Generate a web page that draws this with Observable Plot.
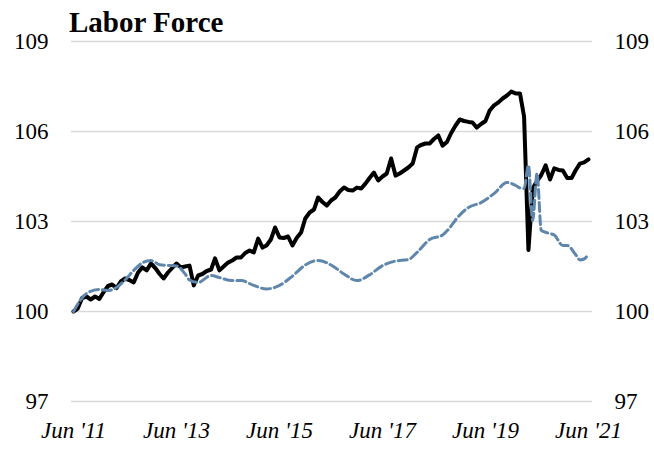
<!DOCTYPE html>
<html><head><meta charset="utf-8">
<script src="https://cdn.jsdelivr.net/npm/d3@7"></script>
<script src="https://cdn.jsdelivr.net/npm/@observablehq/plot@0.6"></script>
<style>
body{margin:0;background:#fff;}
#wrap{position:relative;width:654px;height:449px;}
#title{position:absolute;left:69px;top:8px;margin:0;font:bold 29px "Liberation Serif",serif;line-height:29px;color:#000;}
svg text{font-family:"Liberation Serif",serif;}
g[aria-label="x-axis tick label"] text{font-style:italic;}
</style></head><body>
<div id="wrap"><div id="title">Labor Force</div></div>
<script>
const startMonth = "2011-06-01";
// Black line: monthly index, Jun 2011 = 100
const laborForce = [
100.0,100.1,100.45,100.5,100.4,100.5,100.42,100.65,100.85,100.9,
100.78,101.0,101.1,101.05,100.97,101.3,101.47,101.37,101.6,101.45,
101.25,101.1,101.3,101.45,101.6,101.47,101.5,101.53,100.87,101.2,
101.25,101.35,101.4,101.77,101.37,101.5,101.63,101.7,101.8,101.8,
101.95,102.03,101.97,102.43,102.13,102.2,102.4,102.8,102.47,102.45,
102.5,102.2,102.45,102.63,103.1,103.3,103.4,103.8,103.65,103.53,
103.7,103.8,104.0,104.13,104.05,104.03,104.13,104.1,104.27,104.45,
104.63,104.37,104.5,104.6,105.1,104.53,104.6,104.7,104.8,104.93,
105.47,105.55,105.6,105.6,105.75,105.87,105.53,105.65,105.95,106.2,
106.4,106.35,106.32,106.3,106.13,106.25,106.35,106.7,106.87,106.97,
107.1,107.2,107.33,107.27,107.27,106.5,102.05,104.1,104.35,104.55,
104.87,104.4,104.77,104.72,104.7,104.45,104.45,104.7,104.93,104.97,
105.07
];
// Dashed line: months after Jun 2011 and values
const trendMonths = [0,3,6,8,10,12,14,16,18,20,23,24,26,27,29,32,34,37,39,42,45,48,51,54,57,60,63,66,69,72,75,78,80,83,86,88,89,92,95,98,101,103,104,105,106,107,108,109,111,112,114,115,117,118,119,120];
const trendValues = [100.0,100.6,100.73,100.7,100.8,101.05,101.37,101.62,101.7,101.56,101.53,101.52,101.25,101.05,100.97,101.2,101.13,101.03,101.03,100.87,100.75,100.87,101.18,101.55,101.7,101.55,101.25,101.03,101.22,101.53,101.68,101.73,101.97,102.4,102.55,102.85,103.05,103.47,103.63,103.93,104.3,104.2,104.12,104.1,104.87,103.03,104.6,102.7,102.6,102.55,102.2,102.2,101.9,101.72,101.75,101.93];
const yTicks = [97,100,103,106,109];
const xTickDates = ["2011-06-01","2013-06-01","2015-06-01","2017-06-01","2019-06-01","2021-06-01"];
const xTickLabels = ["Jun '11","Jun '13","Jun '15","Jun '17","Jun '19","Jun '21"];

const start = new Date(startMonth);
const actual = laborForce.map((v,i)=>({date: d3.utcMonth.offset(start,i), value:v}));
const trend = trendMonths.map((m,i)=>({date: d3.utcMonth.offset(start,m), value: trendValues[i]}));
const tickDates = xTickDates.map(d=>new Date(d));

const chart = Plot.plot({
  width:654, height:449, marginLeft:73, marginRight:66, marginTop:41, marginBottom:48,
  style:{fontFamily:'"Liberation Serif", serif', fontSize:"23px", background:"#fff", overflow:"visible"},
  x:{type:"utc", domain:[start, d3.utcMonth.offset(start,120)]},
  y:{domain:[97,109]},
  marks:[
    Plot.ruleY(yTicks,{stroke:"#d9d9d9", strokeWidth:1.3, insetLeft:-2, insetRight:-4}),
    Plot.axisY({anchor:"left", ticks:yTicks, tickSize:0, tickPadding:25, fontSize:23, label:null}),
    Plot.axisY({anchor:"right", ticks:yTicks, tickSize:0, tickPadding:26, fontSize:23, label:null}),
    Plot.axisX({ticks:tickDates, tickFormat:d=>xTickLabels[tickDates.findIndex(t=>+t===+d)], tickSize:0, tickPadding:20, fontSize:23, fontStyle:"italic", label:null}),
    Plot.line(actual,{x:"date",y:"value",stroke:"#000",strokeWidth:4,strokeLinejoin:"round"}),
    Plot.line(trend,{x:"date",y:"value",stroke:"#5f86ad",strokeWidth:3,strokeDasharray:"9,4",curve:"monotone-x"})
  ]
});
document.getElementById("wrap").prepend(chart);
</script>
</body></html>
